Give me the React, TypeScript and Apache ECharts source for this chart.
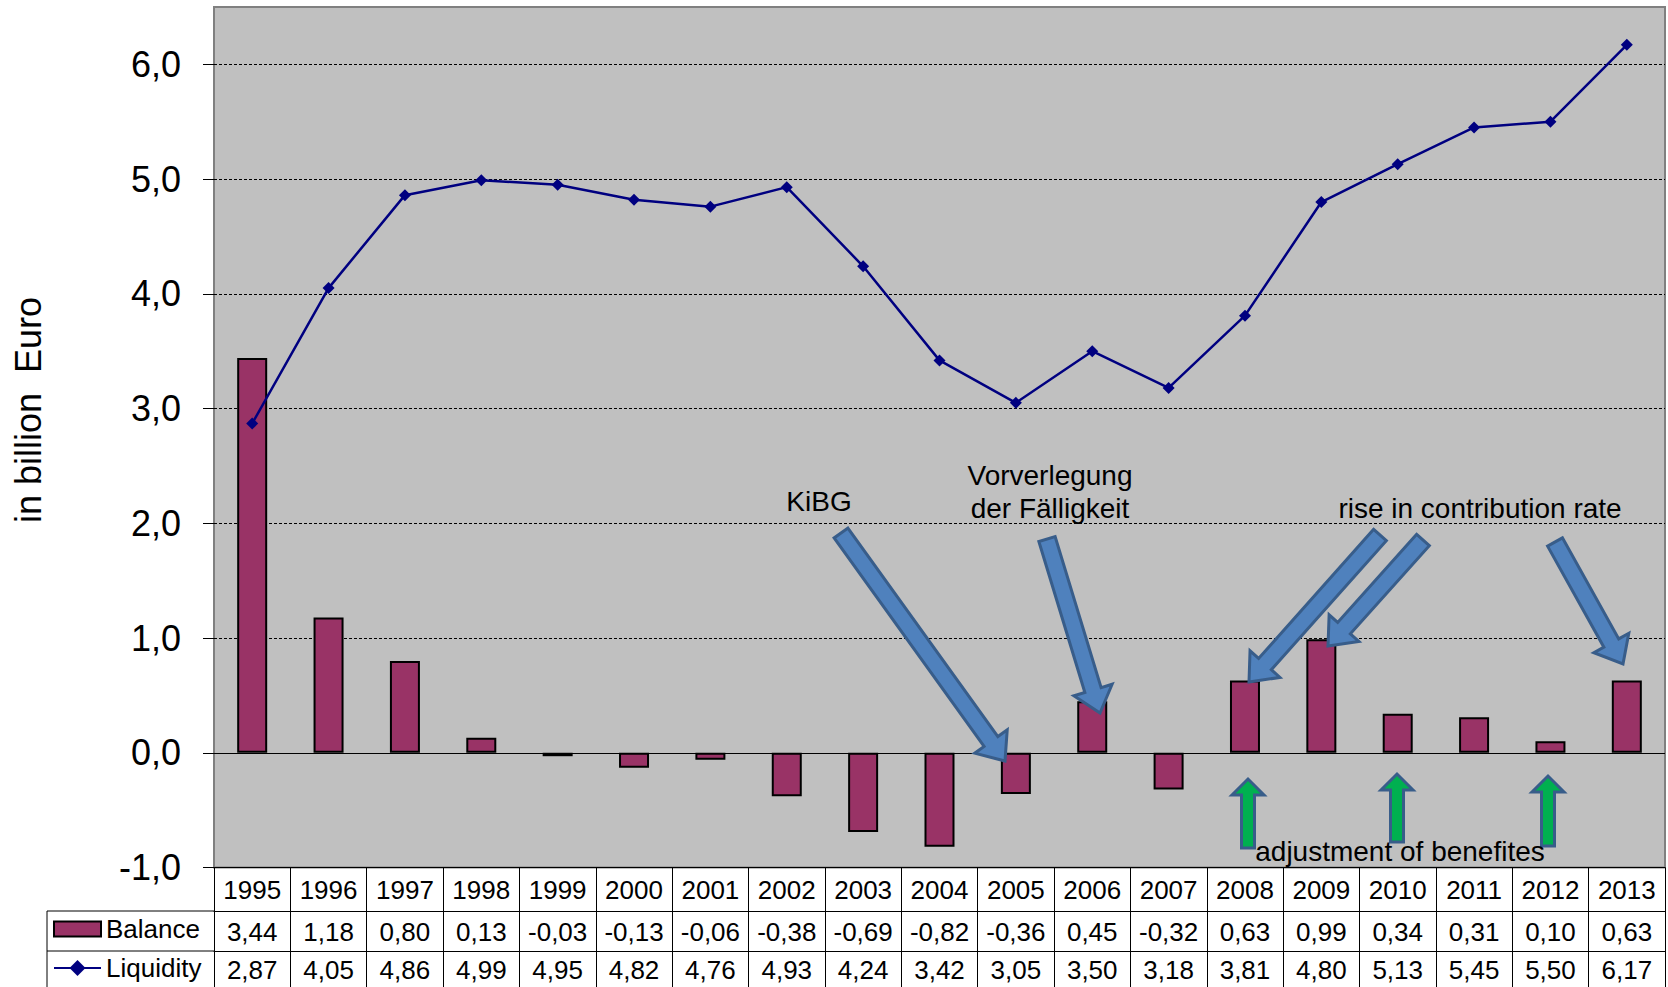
import React, { useEffect, useRef } from "react";
import * as echarts from "echarts";

// ---- data ----
const years = [
  "1995", "1996", "1997", "1998", "1999", "2000", "2001", "2002", "2003", "2004",
  "2005", "2006", "2007", "2008", "2009", "2010", "2011", "2012", "2013",
];
const balance = [
  3.44, 1.18, 0.8, 0.13, -0.03, -0.13, -0.06, -0.38, -0.69, -0.82,
  -0.36, 0.45, -0.32, 0.63, 0.99, 0.34, 0.31, 0.1, 0.63,
];
const liquidity = [
  2.87, 4.05, 4.86, 4.99, 4.95, 4.82, 4.76, 4.93, 4.24, 3.42,
  3.05, 3.5, 3.18, 3.81, 4.8, 5.13, 5.45, 5.5, 6.17,
];
const yTicks = [-1, 0, 1, 2, 3, 4, 5, 6];

const FONT = "'Liberation Sans', Arial, sans-serif";
const fmt = (v: number, digits: number) => v.toFixed(digits).replace(".", ",");

// block arrow outline from tail point to tip point
function blockArrow(
  tail: [number, number],
  tip: [number, number],
  shaft: number,
  headW: number,
  headL: number
): number[][] {
  const dx = tip[0] - tail[0];
  const dy = tip[1] - tail[1];
  const len = Math.hypot(dx, dy);
  const ux = dx / len, uy = dy / len;
  const nx = -uy, ny = ux;
  const bx = tip[0] - ux * headL, by = tip[1] - uy * headL;
  const s = shaft / 2, h = headW / 2;
  return [
    [tail[0] + nx * s, tail[1] + ny * s],
    [bx + nx * s, by + ny * s],
    [bx + nx * h, by + ny * h],
    [tip[0], tip[1]],
    [bx - nx * h, by - ny * h],
    [bx - nx * s, by - ny * s],
    [tail[0] - nx * s, tail[1] - ny * s],
  ];
}

const blueArrows: Array<[[number, number], [number, number]]> = [
  [[841, 533], [1005, 761]],
  [[1047, 539], [1100, 713]],
  [[1380, 535], [1249, 682]],
  [[1423, 540], [1328, 646]],
  [[1555, 542], [1623, 664]],
];
const greenArrows: Array<[[number, number], [number, number]]> = [
  [[1248, 848], [1248, 779]],
  [[1397, 842], [1397, 774]],
  [[1548, 846], [1548, 776]],
];

export default function App() {
  const ref = useRef<HTMLDivElement>(null);

  useEffect(() => {
    if (!ref.current) return;
    const chart = echarts.init(ref.current, undefined, { renderer: "svg" });

    const tableAxis = (
      offset: number,
      margin: number,
      tickLen: number,
      formatter: (v: string, i: number) => string
    ) => ({
      type: "category",
      data: years,
      position: "bottom",
      offset,
      axisLine: { onZero: false, lineStyle: { color: "#000", width: 1 } },
      axisTick: {
        show: true,
        length: tickLen,
        interval: 0,
        alignWithLabel: false,
        lineStyle: { color: "#000", width: 1 },
      },
      axisLabel: {
        interval: 0,
        margin,
        verticalAlign: "middle",
        fontFamily: FONT,
        fontSize: 26,
        color: "#000",
        formatter,
      },
      splitLine: { show: false },
    });

    const textStyle = { fontFamily: FONT, fontSize: 26, color: "#000" };

    const graphics: any[] = [
      {
        type: "text",
        x: 28,
        y: 410,
        rotation: Math.PI / 2,
        style: {
          text: "in billion  Euro",
          fontFamily: FONT,
          fontSize: 36,
          fill: "#000",
          align: "center",
          verticalAlign: "middle",
        },
      },
      // left part of the data table (legend cells)
      { type: "line", shape: { x1: 47, y1: 911, x2: 214, y2: 911 }, style: { stroke: "#000", lineWidth: 1 } },
      { type: "line", shape: { x1: 47, y1: 951, x2: 214, y2: 951 }, style: { stroke: "#000", lineWidth: 1 } },
      { type: "line", shape: { x1: 47, y1: 911, x2: 47, y2: 987 }, style: { stroke: "#000", lineWidth: 1 } },
    ];

    blueArrows.forEach(([a, b]) =>
      graphics.push({
        type: "polygon",
        z: 100,
        shape: { points: blockArrow(a, b, 17, 40, 24) },
        style: { fill: "#4F81BD", stroke: "#385D8A", lineWidth: 3 },
      })
    );
    greenArrows.forEach(([a, b]) =>
      graphics.push({
        type: "polygon",
        z: 100,
        shape: { points: blockArrow(a, b, 13, 32, 16) },
        style: { fill: "#00B050", stroke: "#385D8A", lineWidth: 3 },
      })
    );

    const note = (text: string, x: number, y: number) => ({
      type: "text",
      z: 110,
      x,
      y,
      style: {
        text,
        fontFamily: FONT,
        fontSize: 28,
        lineHeight: 33,
        fill: "#000",
        align: "center",
        verticalAlign: "middle",
      },
    });
    graphics.push(note("KiBG", 819, 501));
    graphics.push(note("Vorverlegung\nder Fälligkeit", 1050, 492));
    graphics.push(note("rise in contribution rate", 1480, 508));
    graphics.push(note("adjustment of benefites", 1400, 851));

    chart.setOption({
      animation: false,
      backgroundColor: "#fff",
      grid: {
        left: 214,
        right: 3,
        top: 7,
        bottom: 119.5,
        show: true,
        backgroundColor: "#C0C0C0",
        borderColor: "#808080",
        borderWidth: 2,
      },
      legend: [
        {
          data: [{ name: "Balance", icon: "rect" }],
          left: 53,
          top: 916,
          padding: 0,
          itemWidth: 47,
          itemHeight: 15,
          selectedMode: false,
          textStyle,
        },
        {
          data: ["Liquidity"],
          left: 53,
          top: 955,
          padding: 0,
          itemWidth: 47,
          itemHeight: 20,
          selectedMode: false,
          textStyle,
        },
      ],
      xAxis: [
        tableAxis(0, 22, 43.5, (v) => v),
        tableAxis(43.5, 21, 40, (_v, i) => fmt(balance[i], 2)),
        tableAxis(83.5, 19, 40, (_v, i) => fmt(liquidity[i], 2)),
      ],
      yAxis: {
        type: "value",
        min: -1,
        max: 6.5,
        interval: 1,
        axisLine: { show: false },
        axisTick: {
          show: true,
          length: 11,
          customValues: yTicks,
          lineStyle: { color: "#000", width: 1 },
        },
        axisLabel: {
          customValues: yTicks,
          margin: 33,
          fontFamily: FONT,
          fontSize: 36,
          color: "#000",
          formatter: (v: number) => fmt(v, 1),
        },
        splitLine: {
          show: true,
          lineStyle: { color: "#000", width: 1, type: [3, 2] },
        },
      },
      series: [
        {
          name: "Balance",
          type: "bar",
          xAxisIndex: 0,
          data: balance,
          barWidth: 30,
          itemStyle: { color: "#993366", borderColor: "#000", borderWidth: 2 },
          markLine: {
            silent: true,
            symbol: "none",
            label: { show: false },
            lineStyle: { color: "#000", width: 1, type: "solid" },
            data: [{ yAxis: 0 }],
          },
        },
        {
          name: "Liquidity",
          type: "line",
          xAxisIndex: 0,
          data: liquidity,
          symbol: "diamond",
          symbolSize: 12,
          itemStyle: { color: "#000080" },
          lineStyle: { color: "#000080", width: 2.5 },
        },
      ],
      graphic: graphics,
    });

    return () => chart.dispose();
  }, []);

  return (
    <div
      ref={ref}
      style={{ position: "absolute", left: 0, top: 0, width: 1668, height: 987, background: "#fff" }}
    />
  );
}
